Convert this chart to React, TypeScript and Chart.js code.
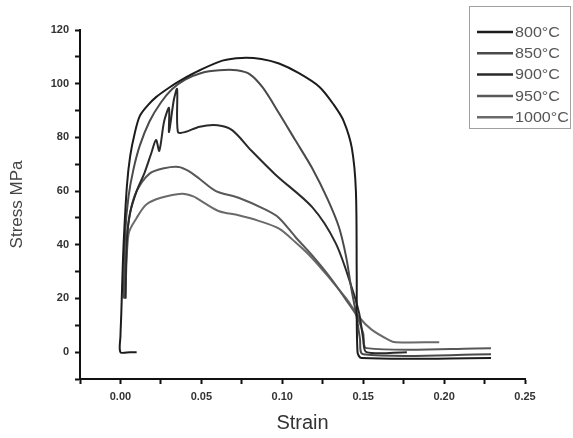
import React, { useEffect, useRef } from "react";
import { Chart, registerables } from "chart.js";

Chart.register(...registerables);

const seriesLabels = ["800°C", "850°C", "900°C", "950°C", "1000°C"];
const seriesColors = ["#1c1c1c", "#4a4a4a", "#2a2a2a", "#585858", "#6a6a6a"];

const strain800 = [0.010, 0.006, 0.000, 0.000, 0.0005, 0.001, 0.002, 0.004, 0.006, 0.009, 0.012, 0.017, 0.022, 0.030, 0.038, 0.049, 0.063, 0.075, 0.087, 0.098, 0.110, 0.123, 0.132, 0.138, 0.143, 0.1455, 0.146, 0.1465, 0.149, 0.229];
const stress800 = [0, 0, 0, 6, 14, 24, 41, 62, 73, 82, 88, 92, 95, 98.5, 101.5, 105, 108.6, 109.6, 109.2, 107.5, 104, 98.8, 92, 86, 76, 60, 30, 0, -2.2, -2.2];

const strain850 = [0.002, 0.003, 0.005, 0.008, 0.012, 0.018, 0.025, 0.032, 0.040, 0.050, 0.061, 0.072, 0.080, 0.088, 0.098, 0.108, 0.1185, 0.128, 0.135, 0.1395, 0.1426, 0.146, 0.148, 0.150, 0.229];
const stress850 = [20, 45, 58, 68, 77, 86, 93, 98, 101.5, 104, 105, 105, 103.5, 98.5, 89, 79, 68.5, 57, 46.6, 35.4, 24, 13, 5, -0.8, -0.8];

const strain900 = [0.003, 0.004, 0.006, 0.010, 0.015, 0.019, 0.022, 0.024, 0.027, 0.030, 0.030, 0.033, 0.035, 0.0355, 0.040, 0.049, 0.060, 0.069, 0.081, 0.096, 0.1185, 0.133, 0.143, 0.1475, 0.150, 0.152, 0.177];
const stress900 = [20, 42, 52, 60, 67, 74, 79, 75, 86, 91, 82, 94, 98, 82, 82, 84, 84.5, 82.7, 75, 66, 54, 40.6, 24, 14.5, 5, 0, 0];

const strain950 = [0.003, 0.004, 0.006, 0.010, 0.018, 0.027, 0.036, 0.042, 0.049, 0.059, 0.073, 0.090, 0.098, 0.108, 0.1185, 0.130, 0.1395, 0.146, 0.150, 0.152, 0.229];
const stress950 = [20, 42, 52, 60, 66.5, 68.5, 69, 67.5, 64.5, 60, 57.5, 53, 50, 43, 36, 27.5, 19.4, 13.5, 7, 1.5, 1.5];

const strain1000 = [0.003, 0.005, 0.010, 0.016, 0.025, 0.038, 0.045, 0.052, 0.061, 0.073, 0.085, 0.098, 0.108, 0.1185, 0.130, 0.1395, 0.1475, 0.155, 0.166, 0.170, 0.197];
const stress1000 = [20, 44, 50, 55, 57.5, 59, 58, 55.5, 52.5, 51, 49, 46, 41, 35, 27, 20, 13, 8.5, 4.5, 3.7, 3.7];

const strainSeries = [strain800, strain850, strain900, strain950, strain1000];
const stressSeries = [stress800, stress850, stress900, stress950, stress1000];

const near = (v: number, step: number) => Math.abs(Math.round(v / step) * step - v) < 1e-9;

const legendPlugin = {
  id: "boxLegend",
  afterDraw(chart: any) {
    const ctx = chart.ctx;
    ctx.save();
    ctx.strokeStyle = "#a0a0a0";
    ctx.lineWidth = 1;
    ctx.strokeRect(469.5, 6.5, 101, 122);
    chart.data.datasets.forEach((ds: any, i: number) => {
      const y = 32 + 21.3 * i;
      ctx.strokeStyle = ds.borderColor;
      ctx.lineWidth = 2.5;
      ctx.beginPath();
      ctx.moveTo(477, y);
      ctx.lineTo(513, y);
      ctx.stroke();
      ctx.save();
      ctx.translate(515, y);
      ctx.scale(1.15, 1);
      ctx.fillStyle = "#555";
      ctx.font = "14px 'Liberation Sans', Arial, sans-serif";
      ctx.textBaseline = "middle";
      ctx.textAlign = "left";
      ctx.fillText(ds.label, 0, 1);
      ctx.restore();
    });
    ctx.restore();
  },
};

export default function App() {
  const ref = useRef<HTMLCanvasElement | null>(null);
  useEffect(() => {
    if (!ref.current) return;
    const datasets = seriesLabels.map((label, i) => ({
      label,
      data: strainSeries[i].map((x, j) => ({ x, y: stressSeries[i][j] })),
      borderColor: seriesColors[i],
      backgroundColor: seriesColors[i],
      borderWidth: 2,
      pointRadius: 0,
      tension: 0.3,
      fill: false,
    }));
    const chart = new Chart(ref.current, {
      type: "line",
      data: { datasets },
      plugins: [legendPlugin],
      options: {
        animation: false,
        responsive: true,
        maintainAspectRatio: false,
        layout: { padding: { left: 0, right: 48, top: 30, bottom: 0 } },
        plugins: { legend: { display: false }, tooltip: { enabled: false } },
        scales: {
          x: {
            type: "linear",
            min: -0.025,
            max: 0.25,
            afterFit: (s: any) => { s.height = 59; },
            ticks: {
              stepSize: 0.025,
              autoSkip: false,
              maxRotation: 0,
              padding: 6,
              color: "#333",
              font: { family: "'Liberation Sans', Arial, sans-serif", size: 11, weight: "bold" },
              callback: (v: any) => (v >= -1e-9 && near(Number(v), 0.05) ? Number(v).toFixed(2) : ""),
            },
            grid: { display: true, drawOnChartArea: false, drawTicks: true, tickLength: 5, tickColor: "#111", tickWidth: 2 },
            border: { display: true, color: "#111", width: 2 },
            title: {
              display: true,
              text: "Strain",
              color: "#333",
              font: { family: "'Liberation Sans', Arial, sans-serif", size: 20 },
              padding: { top: 0, bottom: 3 },
            },
          },
          y: {
            type: "linear",
            min: -10,
            max: 120,
            afterFit: (s: any) => { s.width = 80; },
            ticks: {
              stepSize: 10,
              autoSkip: false,
              padding: 6,
              color: "#333",
              font: { family: "'Liberation Sans', Arial, sans-serif", size: 11, weight: "bold" },
              callback: (v: any) => (v >= 0 && near(Number(v), 20) ? String(v) : ""),
            },
            grid: { display: true, drawOnChartArea: false, drawTicks: true, tickLength: 5, tickColor: "#111", tickWidth: 2 },
            border: { display: true, color: "#111", width: 2 },
            title: {
              display: true,
              text: "Stress MPa",
              color: "#444",
              font: { family: "'Liberation Sans', Arial, sans-serif", size: 17 },
              padding: { top: 7, bottom: 0 },
            },
          },
        },
      },
    });
    return () => chart.destroy();
  }, []);
  return (
    <div style={{ position: "absolute", left: 0, top: 0, width: 573, height: 438, background: "#fff" }}>
      <canvas ref={ref} />
    </div>
  );
}
